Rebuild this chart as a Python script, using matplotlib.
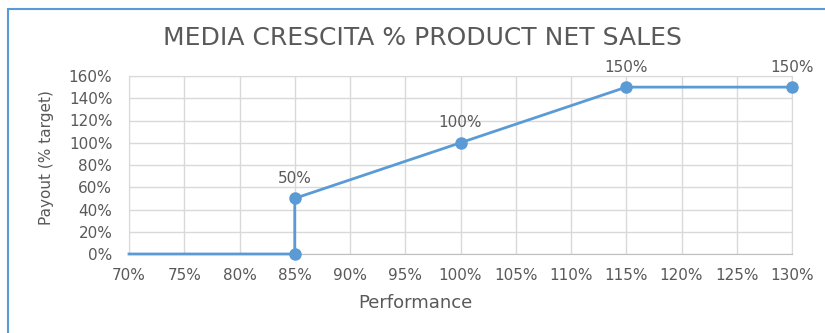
import matplotlib
matplotlib.use("Agg")
import matplotlib.pyplot as plt
import matplotlib.patches as patches
from matplotlib.ticker import FuncFormatter

# data (percent)
perf = [70, 85, 85, 100, 115, 130]
payout = [0, 0, 50, 100, 150, 150]
marker_idx = [1, 2, 3, 4, 5]
label_idx = [2, 3, 4, 5]
x_ticks = list(range(70, 131, 5))
y_ticks = list(range(0, 161, 20))

blue = '#5b9bd5'
grey_txt = '#595959'
plt.rcParams['font.family'] = ['DejaVu Sans']

fig = plt.figure(figsize=(8.25, 3.33), dpi=100)
ax = fig.add_axes([129/825, 1-254/333, (792-129)/825, (254-76)/333])

ax.plot(perf, payout, color=blue, lw=2, zorder=3, clip_on=False)
ax.plot([perf[i] for i in marker_idx], [payout[i] for i in marker_idx], 'o',
        color=blue, ms=8, zorder=4, clip_on=False)
for i in label_idx:
    ax.annotate('%d%%' % payout[i], (perf[i], payout[i]), xytext=(0, 9),
                textcoords='offset points', ha='center', va='bottom',
                fontsize=11, color=grey_txt)

ax.set_xlim(70, 130)
ax.set_ylim(0, 160)
ax.set_xticks(x_ticks)
ax.set_yticks(y_ticks)
fmt = FuncFormatter(lambda v, p: '%d%%' % v)
ax.xaxis.set_major_formatter(fmt)
ax.yaxis.set_major_formatter(fmt)
ax.grid(True, color='#d9d9d9', lw=1)
ax.set_axisbelow(True)
ax.tick_params(length=0, labelsize=11, labelcolor=grey_txt)
ax.tick_params(axis='x', pad=10)
ax.tick_params(axis='y', pad=12)
for s in ['top', 'left', 'right']:
    ax.spines[s].set_color('#d9d9d9')
ax.spines['bottom'].set_color('#bfbfbf')

ax.set_xlabel('Performance', fontsize=13, color=grey_txt)
ax.xaxis.set_label_coords((415-129)/663, -(303-254)/178, transform=ax.transAxes)
ax.xaxis.label.set_va('center')
ax.set_ylabel('Payout (% target)', fontsize=11, color=grey_txt)
ax.yaxis.set_label_coords(-(129-47)/663, (254-158)/178, transform=ax.transAxes)
ax.yaxis.label.set_va('center')
fig.text(422/825, 1-38/333, 'MEDIA CRESCITA % PRODUCT NET SALES', ha='center',
         va='center', fontsize=18, color=grey_txt)

# chart frame (only left and top edges visible)
fig.patches.append(patches.Rectangle((7.5/825, -0.1), 1.2, 1.1 - 8.5/333,
                                     transform=fig.transFigure, fill=False,
                                     edgecolor=blue, lw=1.5))

fig.savefig('out.png', dpi=100)
